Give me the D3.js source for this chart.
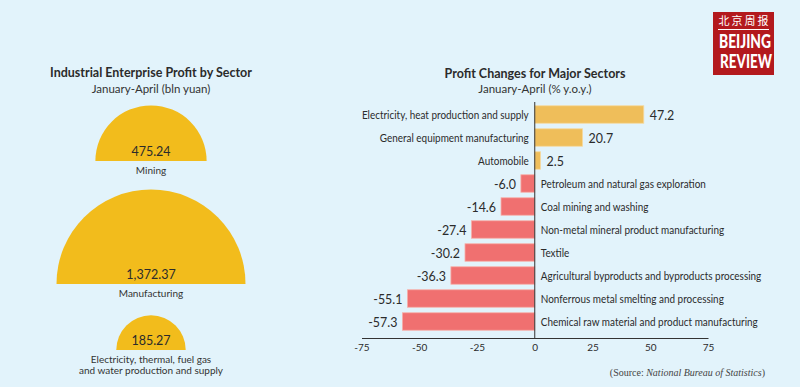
<!DOCTYPE html>
<html><head><meta charset="utf-8">
<script src="https://cdn.jsdelivr.net/npm/d3@7"></script>
<style>
body{margin:0;background:#e2f3fb;}
svg{display:block;}
</style></head><body>
<svg id="c" width="800" height="387"></svg>
<script>
// ---- data ----
const sectors = ["Mining", "Manufacturing", "Electricity, thermal, fuel gas|and water production and supply"];
const profits = [475.24, 1372.37, 185.27];
const profitLabels = ["475.24", "1,372.37", "185.27"];

const changeCategories = [
  "Electricity, heat production and supply",
  "General equipment manufacturing",
  "Automobile",
  "Petroleum and natural gas exploration",
  "Coal mining and washing",
  "Non-metal mineral product manufacturing",
  "Textile",
  "Agricultural byproducts and byproducts processing",
  "Nonferrous metal smelting and processing",
  "Chemical raw material and product manufacturing"
];
const changeValues = [47.2, 20.7, 2.5, -6.0, -14.6, -27.4, -30.2, -36.3, -55.1, -57.3];
const xTicks = [-75, -50, -25, 0, 25, 50, 75];

const svg = d3.select("#c");
svg.append("rect").attr("width",800).attr("height",387).attr("fill","#e2f3fb");

const dark = "#2b2b2b";
const font = '"Lato","Open Sans",sans-serif';

function squeeze(sel, k){
  sel.each(function(){
    const w = this.getComputedTextLength();
    d3.select(this).attr("textLength", w*k).attr("lengthAdjust","spacingAndGlyphs");
  });
}

// ---- left: semicircles ----
const L = svg.append("g");
const cx = 151;
L.append("text").attr("x",cx).attr("y",77).attr("text-anchor","middle")
  .attr("font-family",font).attr("font-weight","bold").attr("font-size",12.5).attr("fill",dark)
  .text("Industrial Enterprise Profit by Sector");
L.append("text").attr("x",cx).attr("y",93).attr("text-anchor","middle")
  .attr("font-family",font).attr("font-size",11.5).attr("fill","#333")
  .text("January-April (bln yuan)");

const r = d3.scaleSqrt().domain([0, d3.max(profits)]).range([0, 94.5]);
const bases = [161, 284, 350];
const arc = d3.arc().innerRadius(0).startAngle(-Math.PI/2).endAngle(Math.PI/2);
profits.forEach((v,i)=>{
  const g = L.append("g").attr("transform",`translate(${cx},${bases[i]})`);
  g.append("path").attr("d", arc({outerRadius:r(v)})).attr("fill","#f2bc1c");
  g.append("text").attr("x",0).attr("y",-5).attr("text-anchor","middle")
    .attr("font-family",font).attr("font-size",12.5).attr("fill",dark).text(profitLabels[i]);
  const lines = sectors[i].split("|");
  lines.forEach((t,j)=>{
    g.append("text").attr("x",0).attr("y",13 + j*11).attr("text-anchor","middle")
      .attr("font-family",font).attr("font-size",10).attr("fill","#333").text(t);
  });
});

// ---- right: bars ----
const R = svg.append("g");
const x = d3.scaleLinear().domain([-75,75]).range([361.5,708]);
const y = d3.scaleBand().domain(changeCategories).range([103,333]).paddingInner(0.24).paddingOuter(0.12);

R.append("text").attr("x",535).attr("y",78).attr("text-anchor","middle")
  .attr("font-family",font).attr("font-weight","bold").attr("font-size",12.5).attr("fill",dark)
  .text("Profit Changes for Major Sectors");
R.append("text").attr("x",535).attr("y",93).attr("text-anchor","middle")
  .attr("font-family",font).attr("font-size",11.5).attr("fill","#333")
  .text("January-April (% y.o.y.)");

const data = changeCategories.map((c,i)=>({c, v:changeValues[i]}));
R.selectAll("rect.bar").data(data).join("rect").attr("class","bar")
  .attr("x",d=>x(Math.min(0,d.v))).attr("width",d=>Math.abs(x(d.v)-x(0)))
  .attr("y",d=>y(d.c)).attr("height",y.bandwidth())
  .attr("fill",d=>d.v>=0?"#efbe5a":"#f07070")
  .attr("stroke",d=>d.v>=0?"#f5d9a0":"#f6b0aa").attr("stroke-width",0.8);

const vals = R.selectAll("text.val").data(data).join("text").attr("class","val")
  .attr("x",d=>d.v>=0? x(d.v)+6 : x(d.v)-5)
  .attr("y",d=>y(d.c)+y.bandwidth()/2+5)
  .attr("text-anchor",d=>d.v>=0?"start":"end")
  .attr("font-family",font).attr("font-size",13.5).attr("fill",dark)
  .text(d=>d.v.toFixed(1));
squeeze(vals, 0.92);

const cats = R.selectAll("text.cat").data(data).join("text").attr("class","cat")
  .attr("x",d=>d.v>=0? x(0)-6 : x(0)+6)
  .attr("y",d=>y(d.c)+y.bandwidth()/2+4)
  .attr("text-anchor",d=>d.v>=0?"end":"start")
  .attr("font-family",font).attr("font-size",11.6).attr("fill",dark)
  .text(d=>d.c);
// fit "Chemical raw material..." width (~217px) in reference proportions
{
  let wMax = 0;
  cats.each(function(d){ if(d.c===changeCategories[9]) wMax = this.getComputedTextLength(); });
  squeeze(cats, 217 / wMax);
}

// zero line
R.append("line").attr("x1",x(0)).attr("x2",x(0)).attr("y1",102).attr("y2",338)
  .attr("stroke","#333").attr("stroke-width",1);

// x axis
const ax = R.append("g").attr("transform","translate(0,338)")
  .call(d3.axisBottom(x).tickValues(xTicks).tickSize(0).tickPadding(6).tickFormat(d3.format("d")));
ax.select(".domain").attr("stroke","#333");
ax.selectAll("text").attr("font-family",font).attr("font-size",10).attr("fill",dark)
  .text(d=>String(d));

// source
const s = svg.append("text").attr("x",765).attr("y",376).attr("text-anchor","end")
  .attr("font-family",'"Liberation Serif","DejaVu Serif",serif').attr("font-size",10).attr("fill","#444");
s.append("tspan").text("(Source: ");
s.append("tspan").attr("font-style","italic").text("National Bureau of Statistics");
s.append("tspan").text(")");

// logo
const lg = svg.append("g");
lg.append("rect").attr("x",713).attr("y",12).attr("width",61).attr("height",63).attr("fill","#b3191d");
lg.append("text").attr("x",743.5).attr("y",25).attr("text-anchor","middle")
  .attr("font-family",'"Noto Sans CJK SC",sans-serif').attr("font-size",11).attr("fill","#fff")
  .attr("textLength",50).attr("lengthAdjust","spacing").text("北京周报");
lg.append("line").attr("x1",718).attr("x2",769).attr("y1",29.5).attr("y2",29.5).attr("stroke","#fff").attr("stroke-width",1.2);
lg.append("text").attr("x",719).attr("y",48).attr("font-family",font)
  .attr("font-weight","900").attr("font-size",18.5).attr("fill","#fff")
  .attr("textLength",52).attr("lengthAdjust","spacingAndGlyphs").text("BEIJING");
lg.append("text").attr("x",720).attr("y",68).attr("font-family",font)
  .attr("font-weight","900").attr("font-size",18.5).attr("fill","#fff")
  .attr("textLength",52).attr("lengthAdjust","spacingAndGlyphs").text("REVIEW");
</script>
</body></html>
